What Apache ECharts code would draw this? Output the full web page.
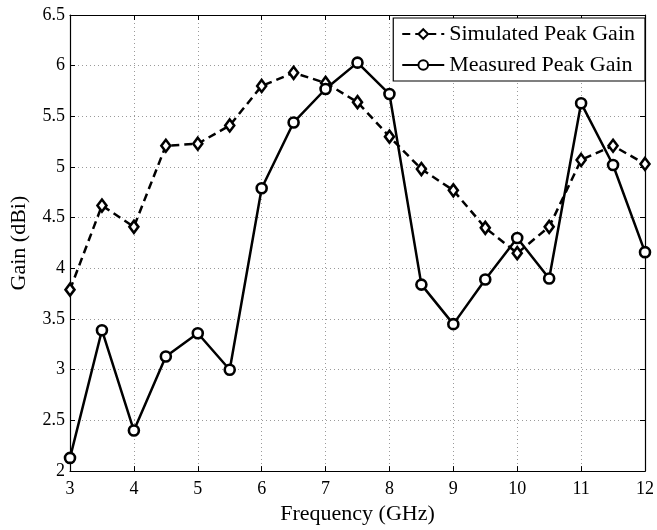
<!DOCTYPE html>
<html>
<head>
<meta charset="utf-8">
<script src="https://cdn.jsdelivr.net/npm/echarts@6/dist/echarts.min.js"></script>
<style>
  html, body { margin: 0; padding: 0; background: #fff; }
  #chart { width: 657px; height: 530px; }
</style>
</head>
<body>
<div id="chart"></div>
<script>
// Frequency points (GHz)
const frequency = [3, 3.5, 4, 4.5, 5, 5.5, 6, 6.5, 7, 7.5, 8, 8.5, 9, 9.5, 10, 10.5, 11, 11.5, 12];
// Peak gain (dBi)
const simulatedGain = [3.79, 4.62, 4.41, 5.21, 5.23, 5.41, 5.80, 5.93, 5.83, 5.64, 5.30, 4.98, 4.77, 4.40, 4.15, 4.41, 5.07, 5.21, 5.03];
const measuredGain  = [2.13, 3.39, 2.40, 3.13, 3.36, 3.00, 4.79, 5.44, 5.77, 6.03, 5.72, 3.84, 3.45, 3.89, 4.30, 3.90, 5.63, 5.02, 4.16];

const FONT = '"Liberation Serif", "Times New Roman", serif';

function pairs(xs, ys) { return xs.map((x, i) => [x, ys[i]]); }

const chart = echarts.init(document.getElementById('chart'), null, { renderer: 'canvas' });

const gridLine = { show: true, lineStyle: { color: '#9a9a9a', width: 1, type: [1, 3] } };
const frame = { show: true, onZero: false, lineStyle: { color: '#000', width: 1.2 } };
const inTick = { show: true, inside: true, length: 5, lineStyle: { color: '#000', width: 1 } };

chart.setOption({
  animation: false,
  backgroundColor: '#fff',
  grid: { left: 69, right: 11, top: 15, bottom: 53, containLabel: false },
  legend: {
    orient: 'vertical',
    right: 12,
    top: 18,
    padding: [5, 10, 5, 8],
    itemGap: 9,
    itemWidth: 42,
    itemHeight: 12,
    backgroundColor: '#fff',
    borderColor: '#000',
    borderWidth: 1.2,
    borderRadius: 0,
    textStyle: { fontFamily: FONT, fontSize: 22, color: '#000' },
    data: ['Simulated Peak Gain', 'Measured Peak Gain']
  },
  xAxis: [
    {
      type: 'value', min: 3, max: 12, interval: 1,
      name: 'Frequency (GHz)', nameLocation: 'middle', nameGap: 29,
      nameTextStyle: { fontFamily: FONT, fontSize: 22, color: '#000' },
      axisLine: frame, axisTick: inTick, splitLine: gridLine,
      axisLabel: { fontFamily: FONT, fontSize: 18, color: '#000', margin: 9 }
    },
    {
      type: 'value', min: 3, max: 12, interval: 1, position: 'top',
      axisLine: frame, axisTick: inTick, splitLine: { show: false },
      axisLabel: { show: false }
    }
  ],
  yAxis: [
    {
      type: 'value', min: 2, max: 6.5, interval: 0.5,
      name: 'Gain (dBi)', nameLocation: 'middle', nameGap: 40, nameRotate: 90,
      nameTextStyle: { fontFamily: FONT, fontSize: 22, color: '#000' },
      axisLine: frame, axisTick: inTick, splitLine: gridLine,
      axisLabel: { fontFamily: FONT, fontSize: 18, color: '#000', margin: 5 }
    },
    {
      type: 'value', min: 2, max: 6.5, interval: 0.5, position: 'right',
      axisLine: frame, axisTick: inTick, splitLine: { show: false },
      axisLabel: { show: false }
    }
  ],
  series: [
    {
      name: 'Simulated Peak Gain',
      type: 'line',
      xAxisIndex: 0, yAxisIndex: 0,
      data: pairs(frequency, simulatedGain),
      symbol: 'diamond',
      symbolSize: [9, 12],
      showAllSymbol: true,
      color: '#000',
      lineStyle: { color: '#000', width: 2.5, type: [8, 5] },
      itemStyle: { color: '#fff', borderColor: '#000', borderWidth: 2.6 },
      z: 3
    },
    {
      name: 'Measured Peak Gain',
      type: 'line',
      xAxisIndex: 0, yAxisIndex: 0,
      data: pairs(frequency, measuredGain),
      symbol: 'circle',
      symbolSize: 10,
      showAllSymbol: true,
      color: '#000',
      lineStyle: { color: '#000', width: 2.5, type: 'solid' },
      itemStyle: { color: '#fff', borderColor: '#000', borderWidth: 2.6 },
      z: 4
    }
  ]
});
</script>
</body>
</html>
